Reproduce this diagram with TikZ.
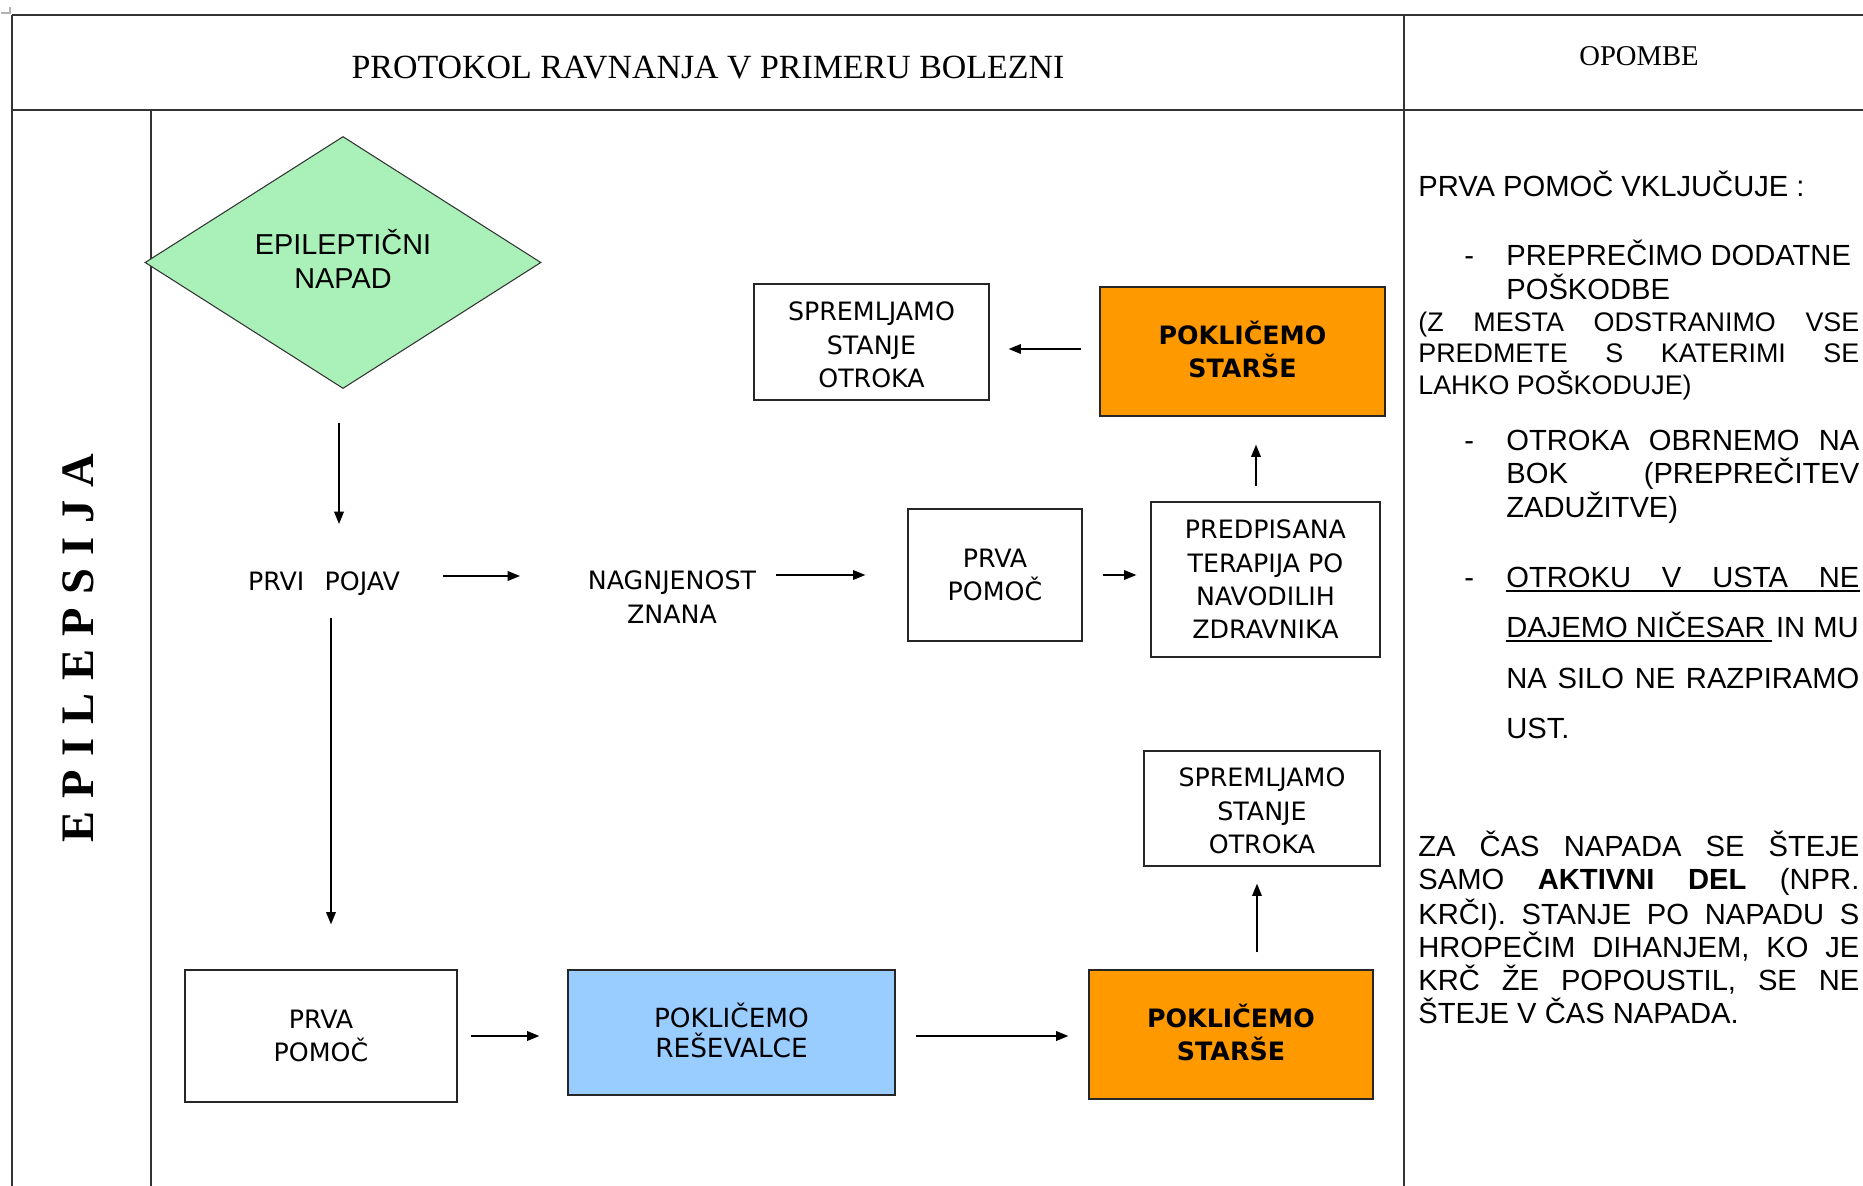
\documentclass[tikz,border=0pt]{standalone}
\usepackage{fontspec}
\setmainfont{Liberation Sans}
\newfontfamily\tnr{Liberation Serif}
\newfontfamily\dvs{DejaVu Sans}
\usetikzlibrary{arrows.meta,shapes.geometric}
\frenchspacing
% one drawing unit = one pixel of the 1863 x 1186 page
\newlength\pxu
\setlength\pxu{0.02cm}
\definecolor{mint}{RGB}{170,240,185}
\definecolor{orng}{RGB}{255,153,0}
\definecolor{skyb}{RGB}{153,204,255}
\newcommand\flowfont{\dvs\fontsize{14.4pt}{19pt}\selectfont}
\newcommand\notefont{\fontsize{16.6pt}{19pt}\selectfont}
\newcommand\smallnote{\fontsize{15.3pt}{18pt}\selectfont}
\newcommand\diafont{\fontsize{16.4pt}{19.3pt}\selectfont}
% invisible struts that move a text block up or down inside its frame
\newcommand\lowerby[1]{\rule{0pt}{\dimexpr 19\pxu+#1\relax}}
\newcommand\raiseby[1]{\rule[-#1]{0pt}{0pt}}
\begin{document}
\begin{tikzpicture}[x=0.02cm,y=-0.02cm,
  tbl/.style={line width=1.1pt,draw=black!80},
  box/.style={draw=black!85,line width=0.75pt,inner sep=0pt,align=center,font=\flowfont},
  callbox/.style={box,fill=orng,font=\flowfont\bfseries},
  freetext/.style={inner sep=0pt,align=center,font=\flowfont},
  arr/.style={line width=0.8pt,-{Triangle[length=7pt,width=5.5pt]}},
  rtext/.style={anchor=base west,inner sep=0pt,font=\notefont},
  uline/.style={line width=0.7pt}]
\useasboundingbox (0,0) rectangle (1863,1186);

% table frame
\draw[black!30,line width=1pt] (1,13) -- (10,13) -- (10,7);
\draw[tbl] (12,15) -- (1863,15);
\draw[tbl] (12,110) -- (1863,110);
\draw[tbl] (12,15) -- (12,1186);
\draw[tbl] (151,110) -- (151,1186);
\draw[tbl] (1404,15) -- (1404,1186);

% headings
\node[anchor=base,inner sep=0pt,font=\tnr\fontsize{19.3pt}{22pt}\selectfont] (title) at (708,79) {PROTOKOL RAVNANJA V PRIMERU BOLEZNI};
\node[anchor=base,inner sep=0pt,font=\tnr\fontsize{16.3pt}{20pt}\selectfont] (opombe) at (1639,65.5) {OPOMBE};
\node[anchor=base,rotate=90,inner sep=0pt,font=\tnr\bfseries\fontsize{26.5pt}{30pt}\selectfont] (side) at (93,648) {\makebox[389\pxu][s]{E P I L E P S I J A}};

% flow chart
\node[diamond,draw=black!80,line width=0.6pt,fill=mint,minimum width=396\pxu,minimum height=252\pxu,inner sep=0pt,align=center,font=\diafont] (dia) at (343,262.5) {EPILEPTIČNI\\NAPAD\raiseby{7\pxu}};
\node[freetext,anchor=base] (pp) at (324,590) {PRVI\hspace{0.8em}POJAV};
\node[freetext] (nz) at (672,597) {NAGNJENOST\\ZNANA};

\node[box,minimum width=235\pxu,minimum height=116\pxu] (a) at (871.5,342) {\lowerby{6\pxu}SPREMLJAMO\\STANJE\\OTROKA};
\node[callbox,minimum width=285\pxu,minimum height=129\pxu] (b) at (1242.5,351.5) {POKLIČEMO\\STARŠE\raiseby{5\pxu}};
\node[box,minimum width=174\pxu,minimum height=132\pxu] (c) at (995,575) {PRVA\\POMOČ};
\node[box,minimum width=229\pxu,minimum height=155\pxu] (d) at (1265.5,579.5) {PREDPISANA\\TERAPIJA PO\\NAVODILIH\\ZDRAVNIKA};
\node[box,minimum width=236\pxu,minimum height=115\pxu] (h) at (1262,808.5) {\lowerby{5\pxu}SPREMLJAMO\\STANJE\\OTROKA};
\node[box,minimum width=272\pxu,minimum height=132\pxu] (e) at (321,1036) {PRVA\\POMOČ};
\node[box,fill=skyb,minimum width=327\pxu,minimum height=125\pxu,font=\dvs\fontsize{15pt}{17pt}\selectfont] (f) at (731.5,1032.5) {POKLIČEMO\\REŠEVALCE\raiseby{5\pxu}};
\node[callbox,minimum width=284\pxu,minimum height=129\pxu] (g) at (1231,1034.5) {POKLIČEMO\\STARŠE\raiseby{5\pxu}};

% connectors
\draw[arr] ([xshift=-4\pxu,yshift=-33.5\pxu]dia.south) -- ([xshift=15\pxu,yshift=66\pxu]pp.base);
\draw[arr] ([xshift=119\pxu,yshift=14\pxu]pp.base) -- ([xshift=-152\pxu,yshift=21\pxu]nz.center);
\draw[arr] ([xshift=104\pxu,yshift=22\pxu]nz.center) -- ([xshift=-42\pxu]c.west);
\draw[arr,shorten <=20\pxu,shorten >=14\pxu] (c.east) -- (c.east -| d.west);
\draw[arr,shorten <=15\pxu,shorten >=28\pxu] ([xshift=-9.5\pxu]d.north) -- ([xshift=-9.5\pxu]d.north |- b.south);
\draw[arr,shorten <=18\pxu,shorten >=19\pxu] ([yshift=2.5\pxu]b.west) -- ([yshift=2.5\pxu]b.west -| a.east);
\draw[arr] ([xshift=7\pxu,yshift=-28\pxu]pp.base) -- ([xshift=10\pxu,yshift=45\pxu]e.north);
\draw[arr,line width=1pt,shorten <=13\pxu,shorten >=28\pxu] (e.east) -- (e.east -| f.west);
\draw[arr,line width=1pt,shorten <=20\pxu,shorten >=20\pxu] (e.east -| f.east) -- (e.east -| g.west);
\draw[arr,shorten <=17\pxu,shorten >=17\pxu] ([xshift=26\pxu]g.north) -- ([xshift=26\pxu]g.north |- h.south);

% notes column
\node[rtext] (r1) at (1418,196.5) {PRVA POMOČ VKLJUČUJE :};
\node[rtext] (k1) at (1464,265) {-};
\node[rtext] (r2) at (1506,265) {PREPREČIMO DODATNE};
\node[rtext] (r3) at (1506,299) {POŠKODBE};
\node[rtext,font=\smallnote] (r4) at (1418,331) {\makebox[441\pxu][s]{(Z MESTA ODSTRANIMO VSE}};
\node[rtext,font=\smallnote] (r5) at (1418,362) {\makebox[441\pxu][s]{PREDMETE S KATERIMI SE}};
\node[rtext,font=\smallnote] (r6) at (1418,394) {LAHKO POŠKODUJE)};
\node[rtext] (k2) at (1464,450) {-};
\node[rtext] (r7) at (1506,450) {\makebox[353\pxu][s]{OTROKA OBRNEMO NA}};
\node[rtext] (r8) at (1506,483) {\makebox[353\pxu][s]{BOK (PREPREČITEV}};
\node[rtext] (r9) at (1506,517) {ZADUŽITVE)};
\node[rtext] (k3) at (1464,587) {-};
\node[rtext] (r10) at (1506,587) {\makebox[353\pxu][s]{OTROKU V USTA NE}};
\node[rtext] (r11) at (1506,637) {DAJEMO NIČESAR};
\node[rtext,anchor=base east] (r11b) at (1859,637) {IN MU};
\node[rtext] (r12) at (1506,688) {\makebox[353\pxu][s]{NA SILO NE RAZPIRAMO}};
\node[rtext] (r13) at (1506,738) {UST.};
\draw[uline] ([yshift=-4\pxu]r10.base west) -- ([yshift=-4\pxu]r10.base east);
\draw[uline] ([yshift=-4\pxu]r11.base west) -- ([xshift=6\pxu,yshift=-4\pxu]r11.base east);

\node[rtext] (r14) at (1418,856) {\makebox[441\pxu][s]{ZA ČAS NAPADA SE ŠTEJE}};
\node[rtext] (r15) at (1418,889) {\makebox[441\pxu][s]{SAMO \textbf{AKTIVNI} \textbf{DEL} (NPR.}};
\node[rtext] (r16) at (1418,924) {\makebox[441\pxu][s]{KRČI). STANJE PO NAPADU S}};
\node[rtext] (r17) at (1418,957) {\makebox[441\pxu][s]{HROPEČIM DIHANJEM, KO JE}};
\node[rtext] (r18) at (1418,990) {\makebox[441\pxu][s]{KRČ ŽE POPOUSTIL, SE NE}};
\node[rtext] (r19) at (1418,1023) {ŠTEJE V ČAS NAPADA.};
\end{tikzpicture}
\end{document}
